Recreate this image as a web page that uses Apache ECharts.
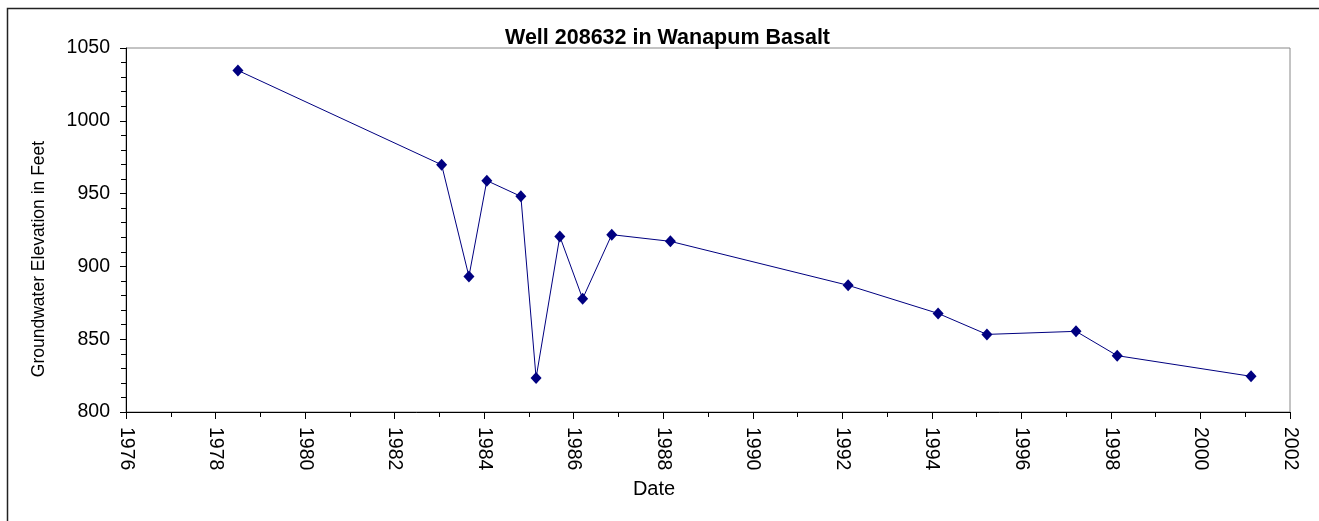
<!DOCTYPE html>
<html>
<head>
<meta charset="utf-8">
<script src="https://cdn.jsdelivr.net/npm/echarts@6/dist/echarts.min.js"></script>
<style>
  html, body { margin: 0; padding: 0; background: #fff; }
  #myChart { width: 1319px; height: 521px; }
</style>
</head>
<body>
<div id="myChart"></div>
<script>
// measurement dates (decimal years) and groundwater elevations (ft)
const years = [1978.50, 1983.05, 1983.66, 1984.06, 1984.82, 1985.16, 1985.69, 1986.20,
  1986.85, 1988.16, 1992.13, 1994.14, 1995.23, 1997.22, 1998.14, 2001.13];
const elevations = [1034.6, 969.8, 893.1, 958.9, 948.1, 823.4, 920.6, 877.8,
  921.8, 917.2, 887.0, 867.7, 853.3, 855.4, 838.7, 824.5];

const font = "Arial, 'Liberation Sans', sans-serif";
const points = years.map((y, i) => [y, elevations[i]]);

const chart = echarts.init(document.getElementById("myChart"));
chart.setOption({
  animation: false,
  backgroundColor: "#fff",
  title: {
    text: "Well 208632 in Wanapum Basalt",
    left: 505,
    top: 27,
    padding: 0,
    textStyle: { fontFamily: font, fontSize: 21.5, fontWeight: "bold", color: "#000" },
  },
  graphic: [
    {
      type: "rect",
      left: 5,
      top: 6,
      shape: { width: 1400, height: 600 },
      style: { fill: null, stroke: "#222", lineWidth: 1.5 },
    },
    {
      // axis titles sit off-centre in the original, so place them by hand
      type: "text",
      x: 39,
      y: 259,
      rotation: Math.PI / 2,
      style: {
        text: "Groundwater Elevation in Feet",
        fontFamily: font,
        fontSize: 17.5,
        fill: "#000",
        align: "center",
        verticalAlign: "middle",
      },
    },
    {
      type: "text",
      x: 654,
      y: 489,
      style: {
        text: "Date",
        fontFamily: font,
        fontSize: 20,
        fill: "#000",
        align: "center",
        verticalAlign: "middle",
      },
    },
  ],
  grid: {
    left: 126,
    top: 48,
    right: 29,
    bottom: 109,
    show: true,
    borderColor: "#888",
    borderWidth: 1,
    backgroundColor: "transparent",
  },
  xAxis: {
    type: "value",
    min: 1976,
    max: 2002,
    interval: 2,
    axisLine: { lineStyle: { color: "#000", width: 1 } },
    axisTick: { length: 7, lineStyle: { color: "#000" } },
    minorTick: { show: true, splitNumber: 2, length: 5, lineStyle: { color: "#000" } },
    splitLine: { show: false },
    axisLabel: {
      rotate: -90,
      margin: 15,
      fontFamily: font,
      fontSize: 19.5,
      color: "#000",
      formatter: (v) => String(v),
    },
  },
  yAxis: {
    type: "value",
    min: 800,
    max: 1050,
    interval: 50,
    axisLine: { show: true, lineStyle: { color: "#000", width: 1 } },
    axisTick: { show: true, length: 6, lineStyle: { color: "#000" } },
    minorTick: { show: true, splitNumber: 5, length: 5, lineStyle: { color: "#000" } },
    splitLine: { show: false },
    axisLabel: {
      margin: 16,
      fontFamily: font,
      fontSize: 19.5,
      color: "#000",
      formatter: (v) => String(v),
    },
  },
  series: [
    {
      type: "line",
      data: points,
      symbol: "diamond",
      symbolSize: [11, 12],
      itemStyle: { color: "#000080" },
      lineStyle: { color: "#000080", width: 1 },
    },
  ],
});
</script>
</body>
</html>
